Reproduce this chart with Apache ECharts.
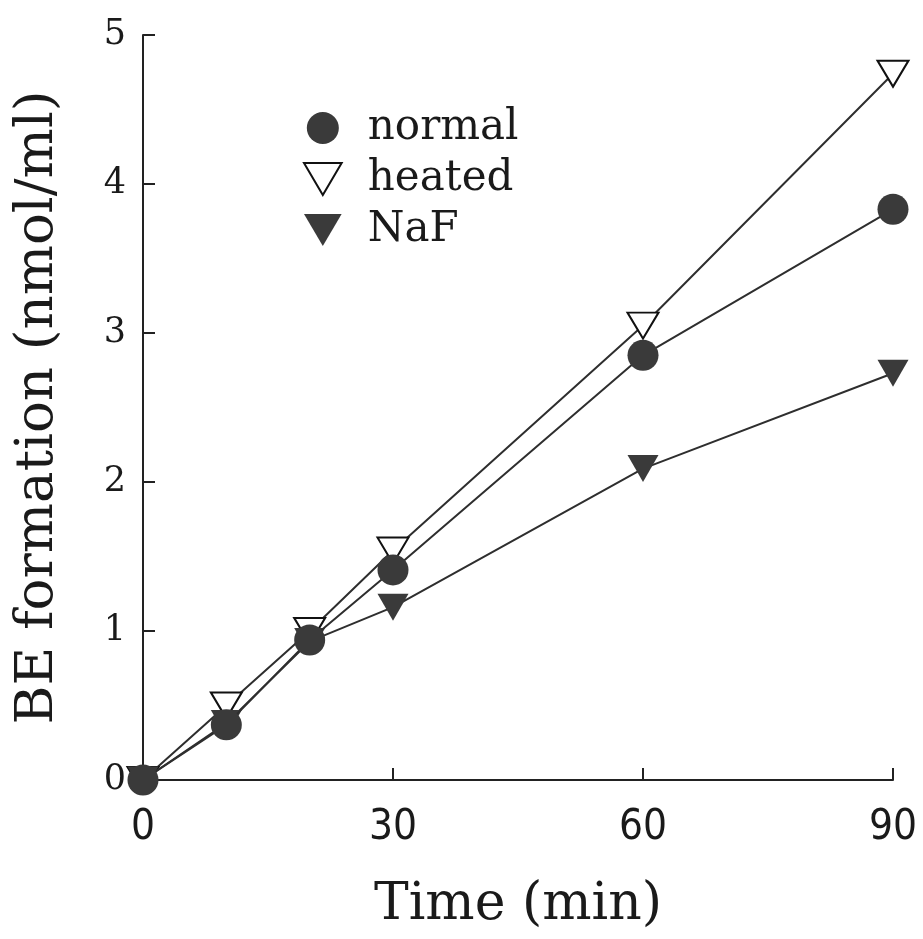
<!DOCTYPE html>
<html>
<head>
<meta charset="utf-8">
<script src="https://cdn.jsdelivr.net/npm/echarts@6/dist/echarts.min.js"></script>
<style>
html,body{margin:0;padding:0;background:#fff;}
#chart{width:923px;height:939px;}
</style>
</head>
<body>
<div id="chart"></div>
<script>
var times = [0, 10, 20, 30, 60, 90];
var normalVals = [0, 0.37, 0.94, 1.41, 2.85, 3.83];
var heatedVals = [0, 0.50, 1.00, 1.54, 3.05, 4.74];
var nafVals = [0, 0.38, 0.93, 1.16, 2.09, 2.73];
var xTicks = [0, 30, 60, 90];
var yTicks = [0, 1, 2, 3, 4, 5];
var seriesNames = ['normal', 'heated', 'NaF'];

function pairs(vals) { return times.map(function (t, i) { return [t, vals[i]]; }); }

var downTri = 'path://M0,0 L20,0 L10,17 Z';
var dark = '#3a3a3a';
var lineCol = '#2e2e2e';
var serif = '"DejaVu Serif", "Liberation Serif", serif';
var txt = '#1a1a1a';

var chart = echarts.init(document.getElementById('chart'), null, {renderer: 'canvas'});
chart.setOption({
  animation: false,
  backgroundColor: '#fff',
  grid: {left: 143, right: 30, top: 35, bottom: 159, containLabel: false},
  legend: {
    left: 298, top: 102, orient: 'vertical',
    itemWidth: 52, itemHeight: 32, itemGap: 9,
    selectedMode: false,
    textStyle: {fontFamily: serif, fontSize: 42, color: txt, padding: [0, 0, 0, 14]},
    data: [
      {name: seriesNames[0], icon: 'circle', itemStyle: {color: dark, borderWidth: 0}},
      {name: seriesNames[1], icon: downTri, itemStyle: {color: '#fff', borderColor: '#111', borderWidth: 2}},
      {name: seriesNames[2], icon: downTri, itemStyle: {color: dark, borderWidth: 0}}
    ]
  },
  xAxis: {
    type: 'value', min: 0, max: 90, interval: 30,
    name: 'Time (min)', nameLocation: 'middle', nameGap: 99,
    nameTextStyle: {fontFamily: serif, fontSize: 52, color: txt},
    axisLine: {show: true, lineStyle: {color: '#222', width: 2}},
    axisTick: {show: true, inside: true, length: 12, lineStyle: {color: '#222', width: 2}},
    splitLine: {show: false},
    axisLabel: {
      margin: 27, fontFamily: '"Liberation Sans Narrow", "DejaVu Sans Condensed", sans-serif', fontSize: 42, color: txt,
      formatter: function (v) { return xTicks.indexOf(v) >= 0 ? String(v) : ''; }
    }
  },
  yAxis: {
    type: 'value', min: 0, max: 5, interval: 1,
    name: 'BE formation (nmol/ml)', nameLocation: 'middle', nameGap: 78,
    nameTextStyle: {fontFamily: serif, fontSize: 53, color: txt},
    axisLine: {show: true, lineStyle: {color: '#222', width: 2}},
    axisTick: {show: true, inside: true, length: 12, lineStyle: {color: '#222', width: 2}},
    splitLine: {show: false},
    axisLabel: {
      margin: 17, fontFamily: serif, fontSize: 35, color: txt,
      formatter: function (v) { return yTicks.indexOf(v) >= 0 ? String(v) : ''; }
    }
  },
  series: [
    {
      name: seriesNames[1], type: 'line', data: pairs(heatedVals), z: 2,
      symbol: downTri, symbolSize: [31, 26], symbolKeepAspect: false,
      itemStyle: {color: '#fff', borderColor: '#111', borderWidth: 2},
      lineStyle: {color: lineCol, width: 2}
    },
    {
      name: seriesNames[2], type: 'line', data: pairs(nafVals), z: 3,
      symbol: downTri, symbolSize: [31, 27], symbolKeepAspect: false,
      itemStyle: {color: dark, borderWidth: 0},
      lineStyle: {color: lineCol, width: 2}
    },
    {
      name: seriesNames[0], type: 'line', data: pairs(normalVals), z: 4,
      symbol: 'circle', symbolSize: 31,
      itemStyle: {color: dark, borderWidth: 0},
      lineStyle: {color: lineCol, width: 2}
    }
  ]
});
</script>
</body>
</html>
